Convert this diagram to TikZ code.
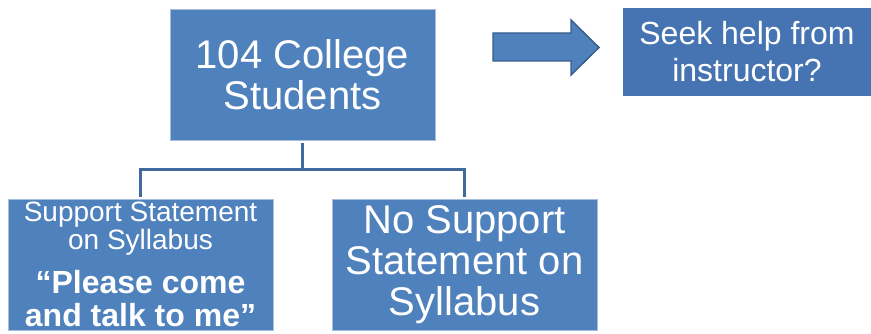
\documentclass[tikz,border=0pt]{standalone}
\usepackage{fontspec}
\setmainfont{Liberation Sans}

\definecolor{boxblue}{HTML}{4F81BD}
\definecolor{seekblue}{HTML}{4674B2}
\definecolor{edgeblue}{HTML}{A6BEDD}
\definecolor{linkblue}{HTML}{41699E}
\definecolor{arrowedge}{HTML}{385D8A}

\newcommand{\smalltext}{\fontsize{21}{21}\selectfont}
\newcommand{\quotetext}{\fontsize{24}{24.75}\selectfont\bfseries}

\begin{document}
\begin{tikzpicture}[x=0.75pt,y=-0.75pt,
        studybox/.style={fill=boxblue, draw=edgeblue, line width=0.6pt, text=white,
            align=center, inner sep=0pt, minimum width=198.75pt, minimum height=98.25pt},
        bigtext/.style={font=\fontsize{30}{30.75}\selectfont},
        link/.style={draw=linkblue, line width=2.25pt}]

    % Fix the page size
    \useasboundingbox (0,0) rectangle (871,334);

    % Draw the sample box
    \node[studybox, bigtext] (students) at (302.5,74.5) {104 College\\Students};

    % Draw the question box
    \node[fill=seekblue, text=white, align=center, inner sep=0pt,
        minimum width=186pt, minimum height=66pt,
        font=\fontsize{24}{27.75}\selectfont] (seek) at (747,52) {Seek help from\\instructor?};

    % Draw the block arrow
    \draw[fill=boxblue, draw=arrowedge, line width=1.1pt, line join=miter]
        (493,33) -- (571,33) -- (571,20) -- (599,47.5) -- (571,75) -- (571,61) -- (493,61) -- cycle;

    % Draw the two conditions
    \node[studybox, font=\smalltext] (support) at (140.5,264.5) {%
        \smalltext Support Statement\\
        \smalltext on Syllabus\\[10pt]
        \quotetext “Please come\\[3.75pt]
        \quotetext and talk to me”};
    \node[studybox, bigtext] (nosupport) at (464.5,264.5) {No Support\\Statement on\\Syllabus};

    % Draw the tree lines
    \coordinate (split) at (302.5,170);
    \draw[link, shorten <=2.25pt] (students.south) -- (split);
    \draw[link, shorten <=1.5pt, shorten >=1.5pt] (support.north) |- (split) -| (nosupport.north);

\end{tikzpicture}
\end{document}
